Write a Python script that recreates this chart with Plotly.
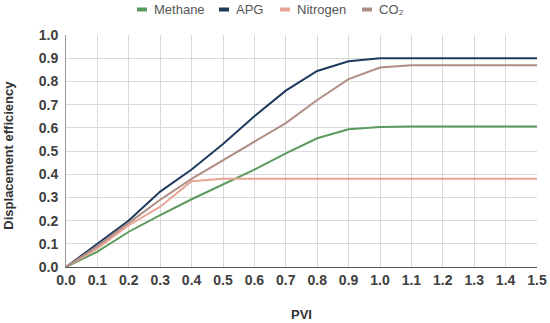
import plotly.graph_objects as go

pvi = [0.0, 0.1, 0.2, 0.3, 0.4, 0.5, 0.6, 0.7, 0.8, 0.9, 1.0, 1.1, 1.2, 1.3, 1.4, 1.5]
methane = [0.0, 0.066, 0.152, 0.224, 0.292, 0.357, 0.42, 0.49, 0.555, 0.594, 0.603, 0.606, 0.606, 0.606, 0.606, 0.606]
apg = [0.0, 0.10, 0.20, 0.325, 0.42, 0.53, 0.65, 0.76, 0.845, 0.887, 0.90, 0.90, 0.90, 0.90, 0.90, 0.90]
nitrogen = [0.0, 0.08, 0.18, 0.26, 0.37, 0.38, 0.38, 0.38, 0.38, 0.38, 0.38, 0.38, 0.38, 0.38, 0.38, 0.38]
co2 = [0.0, 0.09, 0.19, 0.29, 0.38, 0.46, 0.54, 0.62, 0.72, 0.81, 0.86, 0.87, 0.87, 0.87, 0.87, 0.87]
y_ticks = [i / 10 for i in range(11)]

names = ["Methane", "APG", "Nitrogen", "CO₂"]
colors = ["#5b9a5d", "#1f3a5c", "#e8a596", "#b08d84"]
values = [methane, apg, nitrogen, co2]
# legend item start positions (pixels from left of the page)
legend_x = [137, 219, 280, 362]

W, H = 550, 323
ML, MR, MT, MB = 66, 13, 35, 56
PW, PH = W - ML - MR, H - MT - MB

fig = go.Figure()
for name, vals, color in zip(names, values, colors):
    fig.add_trace(go.Scatter(x=pvi, y=vals, mode="lines", name=name,
                             line=dict(color=color, width=2), showlegend=False))

shapes = []
annotations = []
ly = (H - MB - 9.5) / PH
for name, color, lx in zip(names, colors, legend_x):
    shapes.append(dict(type="line", xref="paper", yref="paper",
                       x0=(lx - ML) / PW, x1=(lx + 10 - ML) / PW,
                       y0=ly, y1=ly, line=dict(color=color, width=4)))
    annotations.append(dict(xref="paper", yref="paper",
                            x=(lx + 15 - ML) / PW, y=ly,
                            xanchor="left", yanchor="middle", showarrow=False,
                            text=name, font=dict(size=13, color="#555555")))

annotations.append(dict(xref="paper", yref="paper", x=0.5,
                        y=-(314 - (H - MB)) / PH,
                        xanchor="center", yanchor="middle", showarrow=False,
                        text="<b>PVI</b>", font=dict(size=13, color="#333333")))
annotations.append(dict(xref="paper", yref="paper",
                        x=-(ML - 9) / PW, y=0.48,
                        xanchor="center", yanchor="middle", showarrow=False, textangle=-90,
                        text="<b>Displacement efficiency</b>", font=dict(size=13, color="#333333")))

tickfont = dict(family="Liberation Sans, Arial", size=14, color="#404040")
fig.update_layout(
    width=W, height=H,
    margin=dict(l=ML, r=MR, t=MT, b=MB, autoexpand=False),
    paper_bgcolor="white", plot_bgcolor="white",
    font=dict(family="Liberation Sans, Arial", color="#404040"),
    showlegend=False,
    shapes=shapes,
    annotations=annotations,
    xaxis=dict(range=[0, 1.5], tickmode="array", tickvals=pvi,
               ticktext=[f"<b>{v:.1f}</b>" for v in pvi],
               tickfont=tickfont, showgrid=True, gridcolor="#d9d9d9", gridwidth=1,
               showline=True, linecolor="#555555", linewidth=1, zeroline=False,
               ticks="", automargin=False),
    yaxis=dict(range=[0, 1.0], tickmode="array",
               tickvals=y_ticks,
               ticktext=[f"<b>{v:.1f}</b>" for v in y_ticks],
               tickfont=tickfont, showgrid=True, gridcolor="#d9d9d9", gridwidth=1,
               showline=True, linecolor="#999999", linewidth=1, zeroline=False,
               ticks="", automargin=False, ticklabelstandoff=4),
)
fig.write_html("out.html", config={"displayModeBar": False},
               post_script="document.body.style.margin='0';")
